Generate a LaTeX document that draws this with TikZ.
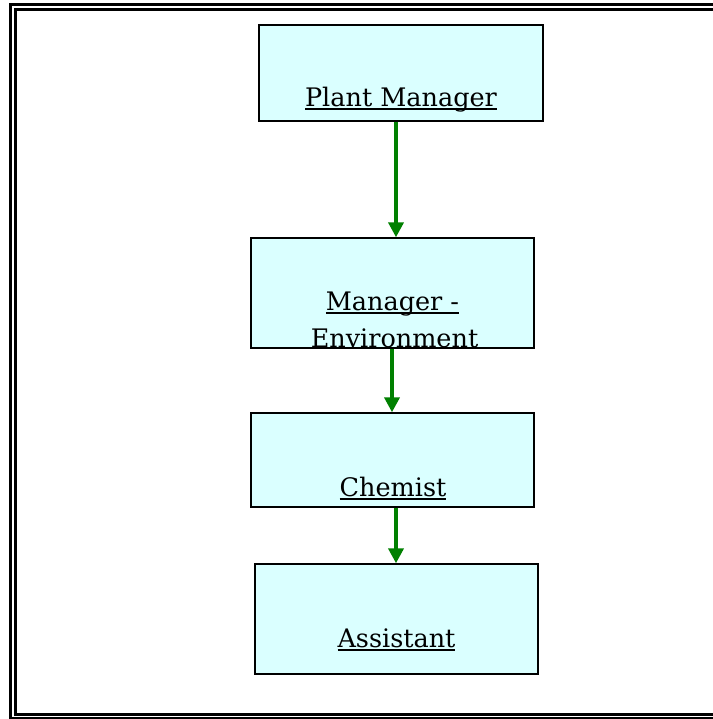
\documentclass[tikz,border=0pt]{standalone}
\usepackage{fontspec}
\setmainfont{DejaVu Serif}
\usetikzlibrary{arrows.meta}
\definecolor{boxfill}{RGB}{218,255,255}
\definecolor{arrowgreen}{RGB}{0,128,0}
\newcommand\myul[1]{\setbox0\hbox{#1}\rlap{\rule[-3.5pt]{\wd0}{2pt}}\box0}
\tikzset{
  orgbox/.style={draw=black, line width=1.4pt, fill=boxfill, inner sep=0pt},
  orgtext/.style={anchor=base, inner sep=0pt, font=\fontsize{25.5}{30}\selectfont},
  orgarrow/.style={draw=arrowgreen, line width=3.8pt, -{Triangle[length=15pt,width=15pt]}},
  frameline/.style={draw=black, line width=3pt}
}
\begin{document}
\begin{tikzpicture}[x=1pt,y=-1pt]
\useasboundingbox (0,0) rectangle (712,719);
\fill[white] (0,0) rectangle (712,719);
% double frame
\draw[frameline] (730,5) -- (10,5) -- (10,718) -- (730,718);
\draw[frameline] (730,10) -- (15,10) -- (15,714) -- (730,714);
% boxes
\node[orgbox, minimum width=284pt, minimum height=96pt] (pm) at (401,73) {};
\node[orgbox, minimum width=283pt, minimum height=110pt] (me) at (392.5,293) {};
\node[orgbox, minimum width=283pt, minimum height=94pt] (ch) at (392.5,460) {};
\node[orgbox, minimum width=283pt, minimum height=110pt] (as) at (396.5,619) {};
% texts
\node[orgtext] (pmt) at (401,107) {\myul{Plant Manager}};
\node[orgtext] (met1) at (392.5,310) {\myul{Manager -}};
\node[orgtext] (met2) at (394.5,347) {Environment};
\node[orgtext] (cht) at (393,496) {\myul{Chemist}};
\node[orgtext] (ast) at (396.5,647) {\myul{Assistant}};
% arrows
\coordinate (a1) at (396,121);
\coordinate (b1) at (396,236);
\draw[orgarrow] (pm.south -| a1) -- (me.north -| b1);
\coordinate (a2) at (392,348);
\draw[orgarrow] (me.south -| a2) -- (ch.north -| a2);
\coordinate (a3) at (396,507);
\draw[orgarrow] (ch.south -| a3) -- (as.north -| a3);
\end{tikzpicture}
\end{document}
